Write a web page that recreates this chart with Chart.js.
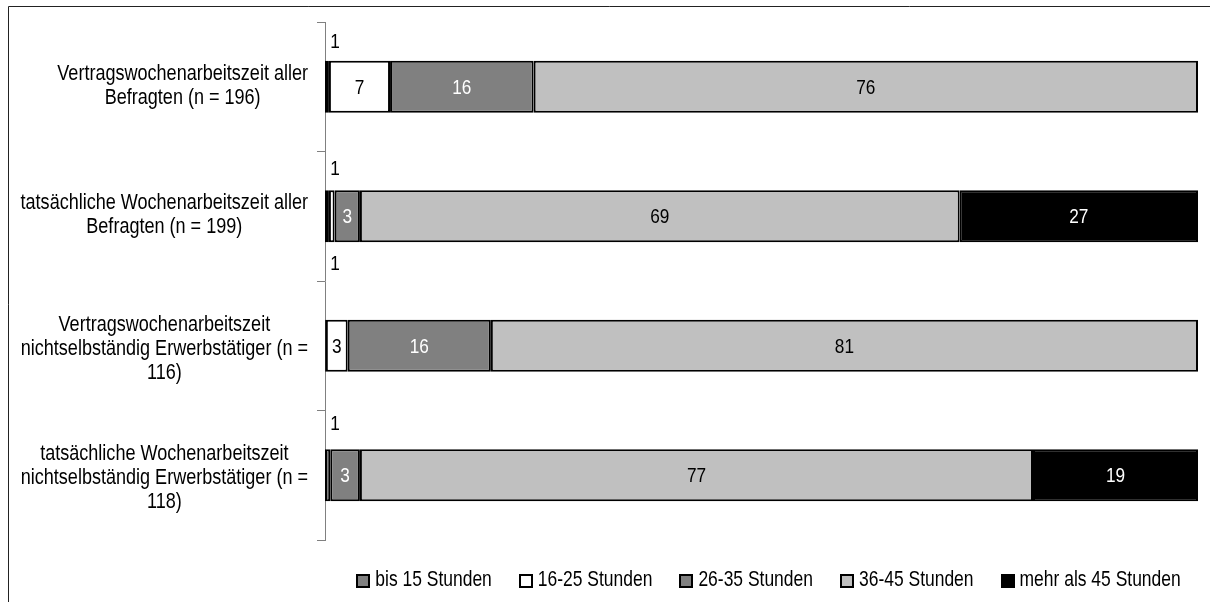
<!DOCTYPE html>
<html>
<head>
<meta charset="utf-8">
<script src="https://cdn.jsdelivr.net/npm/chart.js@4.4.1/dist/chart.umd.min.js"></script>
<style>
  html, body { margin: 0; padding: 0; background: #fff; }
  #wrap { position: absolute; left: 0; top: 0; width: 1210px; height: 602px; }
</style>
</head>
<body>
<div id="wrap"><canvas id="c" width="1210" height="602"></canvas></div>
<script>
// ---- data ----
const categories = [
  ['Vertragswochenarbeitszeit aller', 'Befragten (n = 196)'],
  ['tatsächliche Wochenarbeitszeit aller', 'Befragten (n = 199)'],
  ['Vertragswochenarbeitszeit', 'nichtselbständig Erwerbstätiger (n =', '116)'],
  ['tatsächliche Wochenarbeitszeit', 'nichtselbständig Erwerbstätiger (n =', '118)']
];
const seriesNames = ['bis 15 Stunden', '16-25 Stunden', '26-35 Stunden', '36-45 Stunden', 'mehr als 45 Stunden'];
const bis15   = [0.45, 0.45, 0.1, 0.6];
const h16_25  = [7.0, 0.65, 2.5, 0];
const h26_35  = [16.45, 2.9, 16.4, 3.4];
const h36_45  = [76.1, 68.7, 81.0, 77.1];
const mehr45  = [0, 27.3, 0, 18.9];

// ---- styles ----
const fills = ['#808080', '#ffffff', '#808080', '#c0c0c0', '#000000'];
const labelColors = ['#ffffff', '#000000', '#ffffff', '#000000', '#ffffff'];
const smallLabelNudgeY = [-19, -21, -56, -25];

// condensed look: Liberation Sans (Arial metrics) compressed horizontally
const FAMILY = '"Liberation Sans", Arial, sans-serif';
const SX = 0.82;

function setFont(ctx, size) { ctx.font = size + 'px ' + FAMILY; }
function textW(ctx, t) { return ctx.measureText(t).width * SX; }
function drawText(ctx, t, x, y, align) {
  ctx.save();
  ctx.translate(x, y);
  ctx.scale(SX, 1);
  ctx.textAlign = align || 'center';
  ctx.textBaseline = 'middle';
  ctx.fillText(t, 0, 0);
  ctx.restore();
}

const CAT_SIZE = 22, VAL_SIZE = 21, LEG_SIZE = 21.3;

const framePlugin = {
  id: 'frame',
  beforeDraw(chart) {
    const ctx = chart.ctx;
    ctx.save();
    ctx.fillStyle = '#fff';
    ctx.fillRect(0, 0, chart.width, chart.height);
    ctx.strokeStyle = '#222';
    ctx.lineWidth = 1;
    ctx.beginPath();
    ctx.moveTo(8.5, chart.height);
    ctx.lineTo(8.5, 6.5);
    ctx.lineTo(chart.width, 6.5);
    ctx.stroke();
    ctx.restore();
  }
};

const labelsPlugin = {
  id: 'customLabels',
  afterDatasetsDraw(chart) {
    const ctx = chart.ctx;
    const yScale = chart.scales.y;
    const area = chart.chartArea;
    // category labels
    ctx.save();
    ctx.fillStyle = '#000';
    setFont(ctx, CAT_SIZE);
    const rightEdge = area.left - 17;
    const lh = 24;
    categories.forEach((lines, i) => {
      const cy = yScale.getPixelForValue(i) + (lines.length > 2 ? 3 : -1);
      const maxW = Math.max(...lines.map(l => textW(ctx, l)));
      const cx = rightEdge - maxW / 2;
      const y0 = cy - (lines.length - 1) * lh / 2;
      lines.forEach((l, k) => drawText(ctx, l, cx, y0 + k * lh, 'center'));
    });
    // value labels
    setFont(ctx, VAL_SIZE);
    chart.data.datasets.forEach((ds, di) => {
      const meta = chart.getDatasetMeta(di);
      meta.data.forEach((el, j) => {
        const v = ds.data[j];
        if (v >= 1.5) {
          ctx.fillStyle = labelColors[di];
          drawText(ctx, String(Math.round(v)), (el.x + el.base) / 2, el.y + 1, 'center');
        }
      });
    });
    // small values shown above the bar
    ctx.fillStyle = '#000';
    categories.forEach((c, j) => {
      let small = 0;
      chart.data.datasets.forEach(ds => { const v = ds.data[j]; if (v > 0 && v < 1.5) small += v; });
      if (small > 0) {
        const el = chart.getDatasetMeta(0).data[j];
        const top = el.y - el.height / 2;
        drawText(ctx, String(Math.max(1, Math.round(small))), area.left + 10, top + smallLabelNudgeY[j], 'center');
      }
    });
    // legend
    setFont(ctx, LEG_SIZE);
    const box = 14, gapBox = 5, gapItem = 27;
    const widths = seriesNames.map(n => box + gapBox + textW(ctx, n));
    const total = widths.reduce((a, b) => a + b, 0) + gapItem * (seriesNames.length - 1);
    let x = 768.5 - total / 2;
    const ly = 580.5;
    seriesNames.forEach((n, i) => {
      ctx.fillStyle = '#000';
      ctx.fillRect(Math.round(x), Math.round(ly - box / 2), box, box);
      ctx.fillStyle = fills[i];
      ctx.fillRect(Math.round(x) + 2, Math.round(ly - box / 2) + 2, box - 4, box - 4);
      ctx.fillStyle = '#000';
      drawText(ctx, n, x + box + gapBox, ly, 'left');
      x += widths[i] + gapItem;
    });
    ctx.restore();
  }
};

const seriesData = [bis15, h16_25, h26_35, h36_45, mehr45];
const datasets = seriesNames.map((name, i) => ({
  label: name,
  data: seriesData[i],
  backgroundColor: fills[i],
  borderColor: '#000',
  borderWidth: 2,
  borderSkipped: false,
  barPercentage: 0.8,
  categoryPercentage: 0.5
}));

new Chart(document.getElementById('c'), {
  type: 'bar',
  data: { labels: categories, datasets },
  options: {
    indexAxis: 'y',
    responsive: false,
    animation: false,
    devicePixelRatio: 1,
    layout: { padding: { left: 0, right: 12, top: 22, bottom: 62 } },
    plugins: { legend: { display: false }, tooltip: { enabled: false } },
    scales: {
      x: { stacked: true, min: 0, max: 100, display: false },
      y: {
        stacked: true,
        ticks: { display: false },
        grid: { display: true, drawOnChartArea: false, drawTicks: true, tickLength: 8, color: '#808080', offset: true },
        border: { display: true, color: '#808080', width: 1 },
        afterFit(scale) { scale.width = 325; }
      }
    }
  },
  plugins: [framePlugin, labelsPlugin]
});
</script>
</body>
</html>
